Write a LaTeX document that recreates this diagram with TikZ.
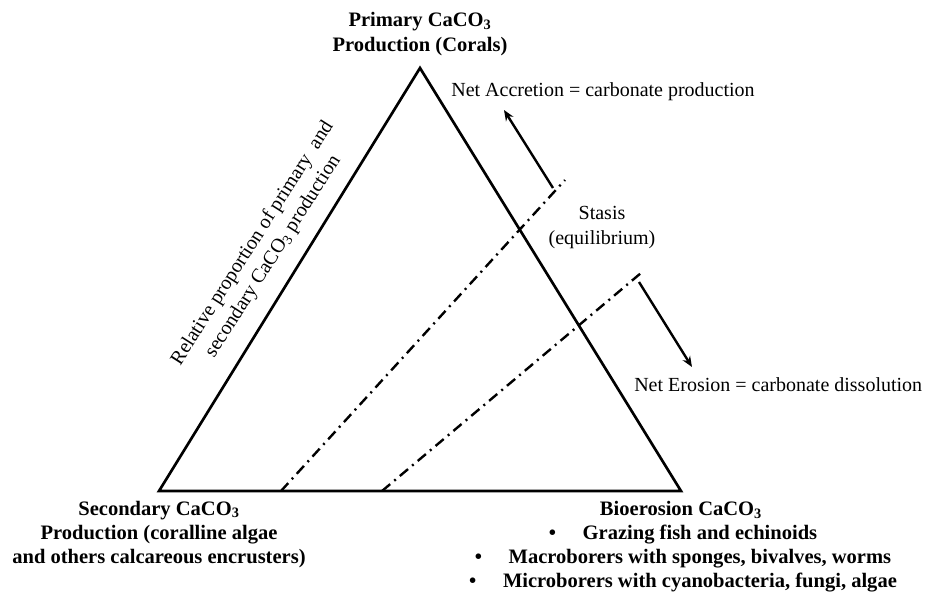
\documentclass[tikz,border=0pt]{standalone}
\usepackage{fontspec}
\setmainfont{Liberation Serif}
\usetikzlibrary{arrows.meta}

\begin{document}
\begin{tikzpicture}[ x=0.75pt, y=-0.75pt, >={Stealth[length=8pt,width=6.5pt]},
    font=\fontsize{15}{18.3}\selectfont,
    side/.style={line width=2pt},
    limit/.style={line width=1.8pt, dash pattern=on 8pt off 4pt on 1.5pt off 4pt},
    trend/.style={->, line width=1.8pt},
    txt/.style={inner sep=0pt, align=center},
    corner/.style={txt, font=\fontsize{15.4}{18.3}\selectfont\bfseries} ]
    \def\bx{683}

    \useasboundingbox (0,0) rectangle (928,594);

    % Triangle
    \coordinate (top) at (420,68);
    \coordinate (left) at (159,491);
    \coordinate (right) at (681,491);
    \draw[side] (top) -- (right) -- (left) -- cycle;

    % --- Limits (dash dot) ---
    \coordinate (acc0) at (281,491);
    \coordinate (acc1) at (565,180);
    \coordinate (ero0) at (382,491);
    \coordinate (ero1) at (641,273);
    \draw[limit] (acc0) -- (acc1);
    \draw[limit] (ero0) -- (ero1);

    % --- Trends ---
    \coordinate (up0) at (553,188);
    \coordinate (up1) at (504,110);
    \coordinate (down0) at (639,282);
    \coordinate (down1) at (692,367);
    \draw[trend] (up0) -- (up1);
    \draw[trend] (down0) -- (down1);

    % Labels
    \node[corner] (primary) at (420,34) {Primary CaCO\textsubscript{3}\\Production (Corals)};
    \node[corner] (secondary) at (159,534.5) {Secondary CaCO\textsubscript{3}\\Production (coralline algae\\and others calcareous encrusters)};
    \node[corner] (bioerosion) at (681,510) {Bioerosion CaCO\textsubscript{3}};
    \node[corner] (grazing) at (\bx,534.5) {\textbullet\hspace{1.3em}Grazing fish and echinoids};
    \node[corner] (macro) at (\bx,559) {\textbullet\hspace{1.3em}Macroborers with sponges, bivalves, worms};
    \node[corner] (micro) at (\bx,583) {\textbullet\hspace{1.3em}Microborers with cyanobacteria, fungi, algae};

    \node[txt] (accretion) at (603,92) {Net Accretion = carbonate production};
    \node[txt] (stasis) at (602,227.5) {Stasis\\(equilibrium)};
    \node[txt, anchor=west] (erosion) at (634,385) {Net Erosion = carbonate dissolution};
    \node[txt, rotate=57.5] (ratio) at (263,250) {Relative proportion of primary\ \ and\\secondary CaCO\textsubscript{3} production};
  \end{tikzpicture}
\end{document}
